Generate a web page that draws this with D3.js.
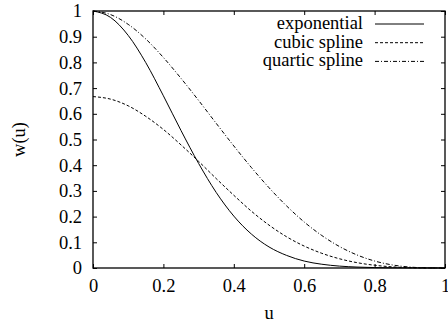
<!DOCTYPE html>
<html>
<head>
<meta charset="utf-8">
<script src="https://cdn.jsdelivr.net/npm/d3@7"></script>
<style>
  body { margin: 0; background: #fff; }
  svg { display: block; }
  text { font-family: "Liberation Serif", "Times New Roman", Times, "DejaVu Serif", serif; fill: #000; }
</style>
</head>
<body>
<script>
const uValues = [0, 0.05, 0.1, 0.15, 0.2, 0.25, 0.3, 0.35, 0.4, 0.45, 0.5,
                 0.55, 0.6, 0.65, 0.7, 0.75, 0.8, 0.85, 0.9, 0.95, 1];
const exponential = [1, 0.975, 0.905, 0.799, 0.670, 0.535, 0.407, 0.294, 0.202, 0.132, 0.082,
                     0.049, 0.027, 0.0146, 0.0074, 0.0036, 0.0017, 0.0007, 0.0003, 0.0001, 0];
const cubicSpline = [0.667, 0.657, 0.631, 0.590, 0.539, 0.479, 0.415, 0.348, 0.283, 0.221, 0.167,
                     0.1215, 0.0853, 0.0572, 0.036, 0.0208, 0.0107, 0.0045, 0.0013, 0.0002, 0];
const quarticSpline = [1, 0.986, 0.948, 0.891, 0.819, 0.738, 0.652, 0.563, 0.475, 0.391, 0.3125,
                       0.2415, 0.179, 0.1265, 0.0837, 0.0508, 0.0272, 0.012, 0.0037, 0.0005, 0];
const seriesNames = ["exponential", "cubic spline", "quartic spline"];
const xTicks = [0, 0.2, 0.4, 0.6, 0.8, 1];
const yTicks = [0, 0.1, 0.2, 0.3, 0.4, 0.5, 0.6, 0.7, 0.8, 0.9, 1];

const width = 448, height = 324;
const margin = {top: 11, right: 3, bottom: 56, left: 93};
const dashes = [null, "3,2", "4,2,1,2"];
const serif = "'Liberation Serif', 'Times New Roman', Times, 'DejaVu Serif', serif";
const fs = "18.5px";

const svg = d3.select("body").append("svg")
  .attr("width", width)
  .attr("height", height);

const x = d3.scaleLinear().domain([0, 1]).range([margin.left, width - margin.right]);
const y = d3.scaleLinear().domain([0, 1]).range([height - margin.bottom, margin.top]);

const fmt = d => d === 0 ? "0" : d === 1 ? "1" : d3.format(".1f")(d);

// axes: ticks point inward, mirrored on top/right like gnuplot
svg.append("g")
  .attr("transform", "translate(0," + y(0) + ")")
  .call(d3.axisBottom(x).tickValues(xTicks).tickFormat(fmt).tickSizeInner(-4).tickSizeOuter(0).tickPadding(11))
  .call(g => g.select(".domain").remove());
svg.append("g")
  .attr("transform", "translate(0," + y(1) + ")")
  .call(d3.axisTop(x).tickValues(xTicks).tickFormat("").tickSizeInner(-4).tickSizeOuter(0))
  .call(g => g.select(".domain").remove());
svg.append("g")
  .attr("transform", "translate(" + x(0) + ",0)")
  .call(d3.axisLeft(y).tickValues(yTicks).tickFormat(fmt).tickSizeInner(-4).tickSizeOuter(0).tickPadding(11))
  .call(g => g.select(".domain").remove());
svg.append("g")
  .attr("transform", "translate(" + x(1) + ",0)")
  .call(d3.axisRight(y).tickValues(yTicks).tickFormat("").tickSizeInner(-4).tickSizeOuter(0))
  .call(g => g.select(".domain").remove());

svg.selectAll("g").attr("font-family", serif);
svg.selectAll(".tick text")
  .style("font-family", serif)
  .style("font-size", fs);
svg.selectAll(".tick line").attr("stroke", "#000");

// frame
svg.append("rect")
  .attr("x", x(0)).attr("y", y(1))
  .attr("width", x(1) - x(0)).attr("height", y(0) - y(1))
  .attr("fill", "none").attr("stroke", "#000").attr("stroke-width", 1.3);

// curves
const seriesData = [exponential, cubicSpline, quarticSpline];
const line = d3.line()
  .x((d, i) => x(uValues[i]))
  .y(d => y(d))
  .curve(d3.curveMonotoneX);

svg.append("g").selectAll("path")
  .data(seriesData)
  .join("path")
  .attr("d", line)
  .attr("fill", "none")
  .attr("stroke", "#000")
  .attr("stroke-width", 1)
  .attr("stroke-dasharray", (d, i) => dashes[i]);

// legend
const legend = svg.append("g");
seriesNames.forEach((name, i) => {
  const ly = 24 + i * 18.7;
  legend.append("text")
    .attr("x", 363).attr("y", ly + 5)
    .attr("text-anchor", "end")
    .style("font-family", serif)
    .style("font-size", fs)
    .text(name);
  legend.append("line")
    .attr("x1", 375).attr("x2", 424)
    .attr("y1", ly).attr("y2", ly)
    .attr("stroke", "#000").attr("stroke-width", 1)
    .attr("stroke-dasharray", dashes[i]);
});

// axis titles
svg.append("text")
  .attr("x", (x(0) + x(1)) / 2).attr("y", 319)
  .attr("text-anchor", "middle")
  .style("font-family", serif)
  .style("font-size", fs)
  .text("u");
svg.append("text")
  .attr("transform", "translate(25," + ((y(0) + y(1)) / 2) + ") rotate(-90)")
  .attr("text-anchor", "middle")
  .style("font-family", serif)
  .style("font-size", fs)
  .text("w(u)");
</script>
</body>
</html>
